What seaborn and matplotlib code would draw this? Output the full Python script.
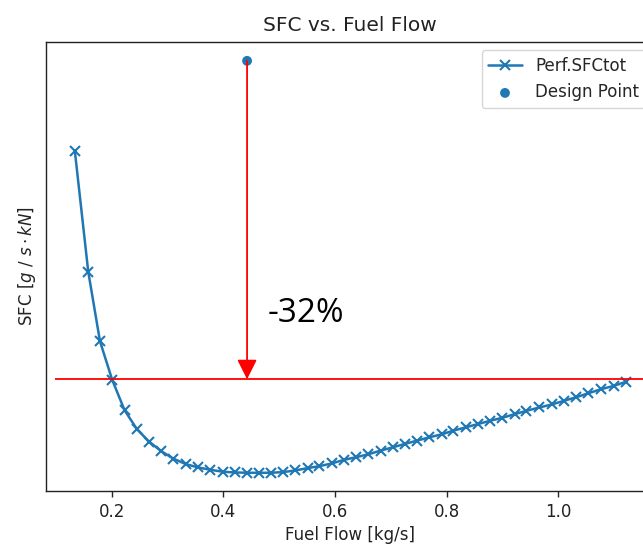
import matplotlib
matplotlib.use("Agg")
import matplotlib.pyplot as plt
import pandas as pd
import seaborn as sns

sns.set_style("ticks")
plt.rcParams["font.family"] = ["DejaVu Sans"]

# off-design sweep
fuel_flow = [
    0.134, 0.158, 0.179, 0.201, 0.223, 0.245, 0.267, 0.288, 0.310, 0.333,
    0.355, 0.377, 0.399, 0.421, 0.442, 0.464, 0.486, 0.507, 0.529, 0.551,
    0.572, 0.594, 0.616, 0.638, 0.660, 0.682, 0.704, 0.725, 0.747, 0.769,
    0.791, 0.812, 0.834, 0.856, 0.878, 0.900, 0.922, 0.943, 0.966, 0.988,
    1.010, 1.032, 1.054, 1.076, 1.099, 1.122,
]
sfc = [
    27.28, 23.64, 21.54, 20.37, 19.46, 18.89, 18.51, 18.23, 18.00, 17.83,
    17.73, 17.66, 17.60, 17.58, 17.57, 17.57, 17.57, 17.59, 17.64, 17.71,
    17.77, 17.85, 17.96, 18.04, 18.13, 18.24, 18.34, 18.44, 18.54, 18.64,
    18.73, 18.84, 18.94, 19.04, 19.14, 19.23, 19.34, 19.44, 19.54, 19.63,
    19.74, 19.85, 19.97, 20.09, 20.19, 20.32,
]

# design point and reduced level
design_flow = 0.4425
design_sfc = 30.00
reduced_sfc = 20.39
reduction_label = "-32%"

sweep = pd.DataFrame({"Fuel Flow": fuel_flow, "SFC": sfc})
design = pd.DataFrame({"Fuel Flow": [design_flow], "SFC": [design_sfc]})

fig = plt.figure(figsize=(6.43, 5.45), dpi=100)
ax = fig.add_axes([0.0715, 0.0991, 0.9456, 0.8239])

blue = "#1f77b4"
sns.lineplot(data=sweep, x="Fuel Flow", y="SFC", ax=ax, color=blue, linewidth=1.8,
             marker="x", markersize=6.5, markeredgewidth=1.5, markeredgecolor=blue,
             label="Perf.SFCtot")
sns.scatterplot(data=design, x="Fuel Flow", y="SFC", ax=ax, color=blue, s=50,
                edgecolor="none", label="Design Point", zorder=3)

ax.hlines(reduced_sfc, 0.0985, 1.1714, color="red", linewidth=1.3)
ax.annotate("", xy=(design_flow, reduced_sfc), xytext=(design_flow, design_sfc),
            arrowprops=dict(arrowstyle="-|>", color="red", lw=1.3, mutation_scale=30,
                            shrinkA=0, shrinkB=0))
ax.text(0.480, 22.38, reduction_label, fontsize=24, family="Open Sans",
        va="center", ha="left", color="black")

ax.set_xlim(0.0823, 1.1714)
ax.set_ylim(17.02, 30.57)
ax.set_xticks([0.2, 0.4, 0.6, 0.8, 1.0])
ax.set_yticks([])
ax.set_title("SFC vs. Fuel Flow", fontsize=14.5, pad=8, color="#222222")
ax.set_xlabel("Fuel Flow [kg/s]", fontsize=12, labelpad=4, color="#222222")
ax.set_ylabel(r"SFC [$g\ /\ s \cdot kN$]", fontsize=12, labelpad=6, color="#222222")
ax.tick_params(axis="x", labelsize=12, length=4.2, width=1.0, pad=4.2,
               labelcolor="#222222")
for sp in ax.spines.values():
    sp.set_color("#222222")
    sp.set_linewidth(1.0)
ax.legend(loc="upper right", fontsize=12, frameon=True)

fig.savefig("out.png", dpi=100)
plt.close(fig)
